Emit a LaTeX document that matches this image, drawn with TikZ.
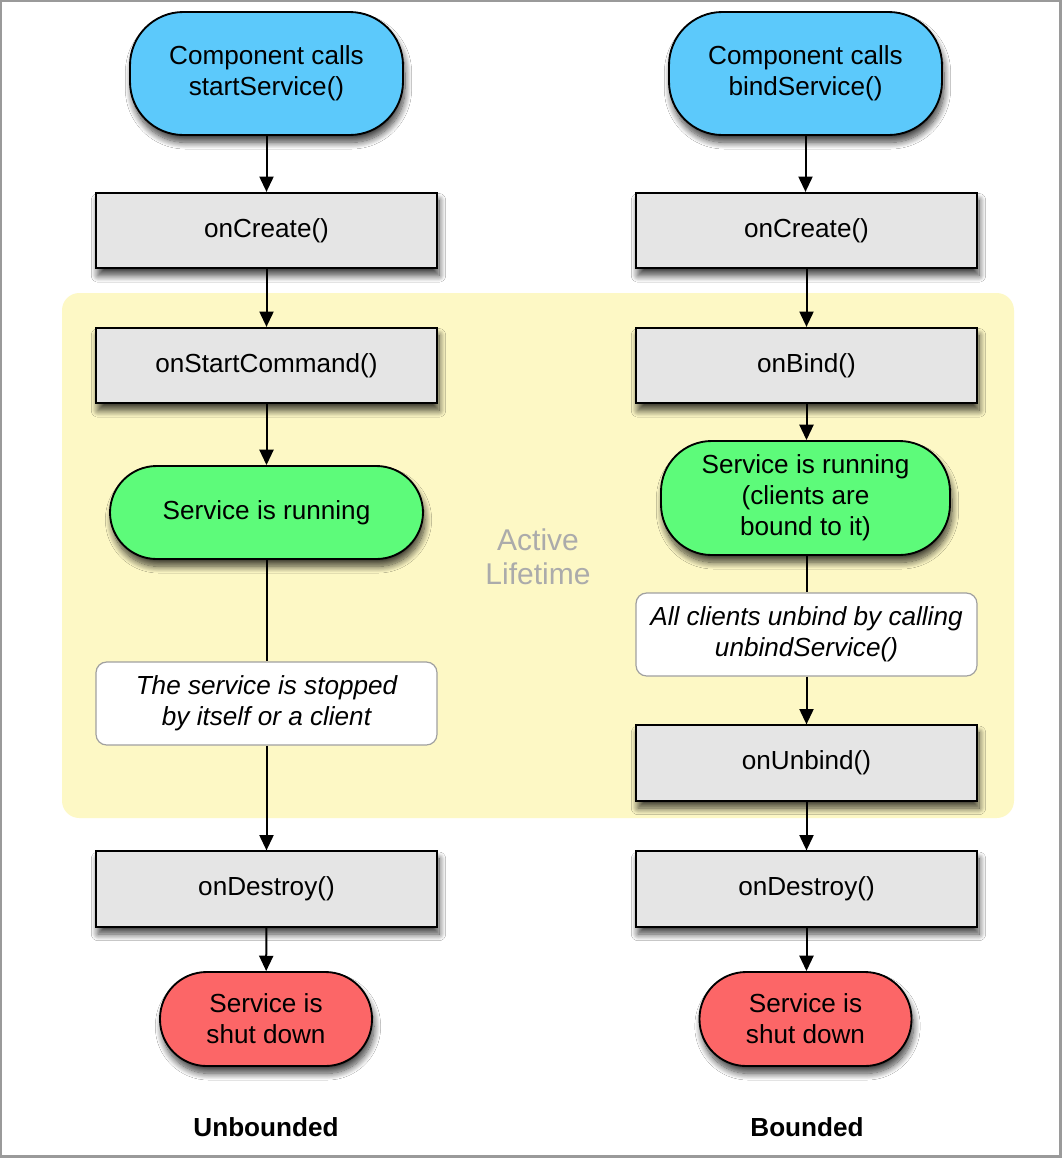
\documentclass[tikz,border=0pt]{standalone}
\usepackage{fontspec}
\setmainfont{Liberation Sans}
\usetikzlibrary{arrows.meta,shadows.blur}

\definecolor{startblue}{HTML}{5CC9FB}
\definecolor{stepgray}{HTML}{E5E5E5}
\definecolor{rungreen}{HTML}{5DFB7A}
\definecolor{stopred}{HTML}{FC6667}
\definecolor{lifeyellow}{HTML}{FDF8C5}
\definecolor{notegray}{HTML}{A0A0A0}
\definecolor{labelgray}{HTML}{ABABAB}
\definecolor{framegray}{HTML}{9A9A9A}

\tikzset{
  every node/.style={font=\fontsize{19.6}{23.3}\selectfont, align=center, inner sep=0pt},
  softshadow/.style={blur shadow={shadow xshift=1.5pt, shadow yshift=-5.5pt,
      shadow blur radius=5pt, shadow blur steps=12, shadow opacity=75}},
  startnode/.style={draw=black, line width=1.4pt, fill=startblue, rounded corners=40pt,
      minimum width=204.75pt, minimum height=92.25pt, softshadow},
  callbox/.style={draw=black, line width=1.4pt, fill=stepgray,
      minimum width=255.75pt, minimum height=56.5pt, softshadow},
  runnode/.style={draw=black, line width=1.4pt, fill=rungreen, rounded corners=35pt, softshadow},
  stopnode/.style={draw=black, line width=1.4pt, fill=stopred, rounded corners=35pt,
      minimum width=159pt, minimum height=70.5pt, softshadow},
  notebox/.style={draw=notegray, line width=0.9pt, fill=white, rounded corners=8pt,
      minimum width=255.75pt, minimum height=62.25pt, font=\fontsize{19.6}{23.3}\selectfont\itshape},
  flow/.style={line width=1.5pt, -{Triangle[width=10.5pt,length=11.5pt]}},
  plain/.style={line width=1.5pt},
  caption/.style={font=\fontsize{19.6}{23.3}\selectfont\bfseries},
}

\begin{document}
\begin{tikzpicture}[x=0.75pt, y=-0.75pt]
  \useasboundingbox (0,0) rectangle (1062,1158);
  \fill[white] (0,0) rectangle (1062,1158);
  \draw[framegray, line width=1.8pt] (1,1) rectangle (1060.5,1156.5);

  % active lifetime region
  \fill[lifeyellow, rounded corners=13pt] (62,293) rectangle (1014,818);
  \node[font=\fontsize{22.5}{25.5}\selectfont, text=labelgray] (life) at (538,557) {Active\\Lifetime};

  % started service
  \node[startnode] (startL) at (266.5,73.5) {Component calls\\startService()};
  \node[callbox] (createL) at (266.5,230.5) {onCreate()};
  \node[callbox] (cmdL) at (266.5,365.5) {onStartCommand()};
  \node[runnode, minimum width=234.75pt, minimum height=69.75pt] (runL) at (266.5,512.5) {Service is running};
  \node[notebox] (noteL) at (266.5,703.5) {The service is stopped\\by itself or a client};
  \node[callbox] (destroyL) at (266.5,889) {onDestroy()};
  \node[stopnode] (downL) at (266,1019) {Service is\\shut down};
  \node[caption] (capL) at (266,1127) {Unbounded};

  \draw[flow] (startL) -- (createL);
  \draw[flow] (createL) -- (cmdL);
  \draw[flow] (cmdL) -- (runL);
  \draw[plain] (runL) -- (noteL);
  \draw[flow] (noteL) -- (destroyL);
  \draw[flow] (destroyL) -- (downL);

  % bound service
  \node[startnode] (startR) at (805.5,73.5) {Component calls\\bindService()};
  \node[callbox] (createR) at (806.5,230.5) {onCreate()};
  \node[callbox] (bindR) at (806.5,365.5) {onBind()};
  \node[runnode, minimum width=216.75pt, minimum height=85.5pt, rounded corners=38pt] (runR) at (805.5,498) {Service is running\\(clients are\\bound to it)};
  \node[notebox] (noteR) at (806.5,634.5) {All clients unbind by calling\\unbindService()};
  \node[callbox] (unbindR) at (806.5,763) {onUnbind()};
  \node[callbox] (destroyR) at (806.5,889) {onDestroy()};
  \node[stopnode] (downR) at (805.5,1019) {Service is\\shut down};
  \node[caption] (capR) at (807,1127) {Bounded};

  \draw[flow] (startR) -- (startR |- createR.north);
  \draw[flow] (createR) -- (bindR);
  \draw[flow] (bindR) -- (bindR |- runR.north);
  \draw[plain] (runR.south -| bindR) -- (noteR);
  \draw[flow] (noteR) -- (unbindR);
  \draw[flow] (unbindR) -- (destroyR);
  \draw[flow] (destroyR) -- (destroyR |- downR.north);
\end{tikzpicture}
\end{document}
